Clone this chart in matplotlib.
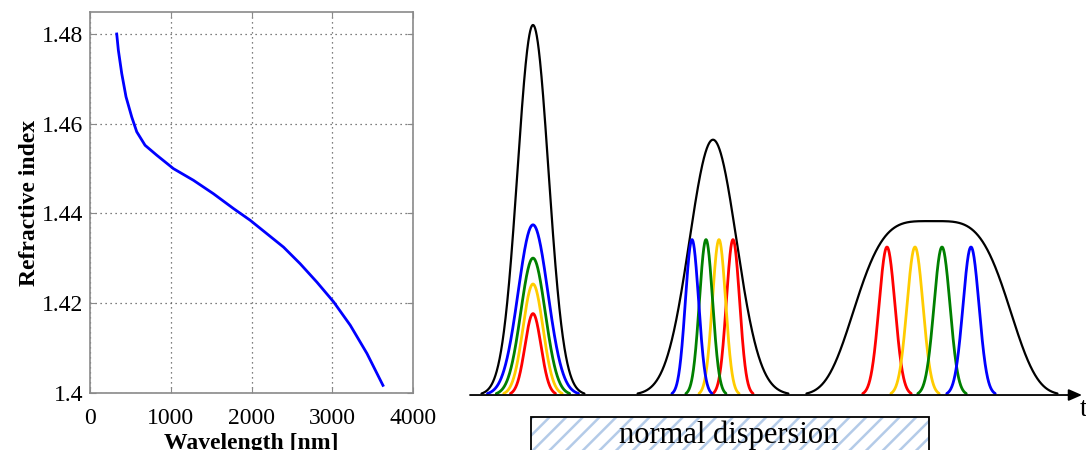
import numpy as np
import matplotlib
matplotlib.use("Agg")
import matplotlib.pyplot as plt
from matplotlib.patches import Rectangle

# ---------------- data: refractive index curve ----------------
wavelength_nm = [331, 351, 393, 446, 517, 579, 682, 826, 1033, 1281, 1529, 1777,
                 1983, 2190, 2397, 2603, 2810, 3017, 3223, 3430, 3628]
refr_index = [1.4800, 1.4764, 1.4712, 1.4660, 1.4615, 1.4582, 1.4552, 1.4530,
              1.4500, 1.4474, 1.4444, 1.4411, 1.4385, 1.4355, 1.4325, 1.4288,
              1.4247, 1.4203, 1.4151, 1.4088, 1.4017]
x_ticks = [0, 1000, 2000, 3000, 4000]
y_ticks = [1.40, 1.42, 1.44, 1.46, 1.48]
y_tick_labels = ["1.4", "1.42", "1.44", "1.46", "1.48"]

# ---------------- data: pulse schematic (time in arb. units) ----------------
colors = ["red", "#ffcc00", "green", "blue"]
# pulse 1: co-located components
p1_center = 6.3
p1_amps = [0.22, 0.30, 0.37, 0.46]
p1_sigmas = [0.80, 1.00, 1.22, 1.48]
p1_env_amp, p1_env_sigma = 1.0, 1.55
# pulse 2: components slightly separated
p2_centers = [26.3, 24.9, 23.6, 22.2]
p2_amps = [0.42, 0.42, 0.42, 0.42]
p2_sigma = 0.66
p2_env_center, p2_env_amp, p2_env_sigma = 24.3, 0.69, 2.35
# pulse 3: components fully separated
p3_centers = [41.7, 44.5, 47.2, 50.1]
p3_amps = [0.40, 0.40, 0.40, 0.40]
p3_sigma = 0.80
p3_env_center, p3_env_amp, p3_env_width = 46.2, 0.47, 8.5

plt.rcParams['font.family'] = ['Liberation Serif', 'DejaVu Serif']
plt.rcParams['hatch.linewidth'] = 1.8

fig = plt.figure(figsize=(10.86, 4.5), dpi=100)

# ---------------- left panel ----------------
ax = fig.add_axes([90/1086, 57/450, 323/1086, 381/450])
ax.plot(wavelength_nm, refr_index, color="#0000ff", lw=2.0)
ax.set_xlim(0, 4000)
ax.set_ylim(1.4, 1.4849)
ax.set_xticks(x_ticks)
ax.set_yticks(y_ticks)
ax.set_yticklabels(y_tick_labels)
ax.grid(True, linestyle=(0, (1, 3)), color="#555555", lw=0.9)
for s in ax.spines.values():
    s.set_color("#8a8a8a")
    s.set_linewidth(1.2)
ax.tick_params(direction="in", length=4, color="#8a8a8a", labelsize=17,
               top=True, right=True)
ax.tick_params(axis="x", pad=11)
ax.tick_params(axis="y", pad=5)
ax.set_xlabel("Wavelength [nm]", fontsize=17, fontweight="bold", labelpad=3)
ax.set_ylabel("Refractive index", fontsize=17, fontweight="bold", labelpad=1)

# ---------------- right panel ----------------
ax2 = fig.add_axes([470/1086, 0, 616/1086, 1])
ax2.set_xlim(0, 61.6)
ax2.set_ylim(-0.1486, 1.0676)
ax2.axis("off")

t = np.linspace(0, 61.6, 3000)

def gauss(a, c, s):
    return a * np.exp(-0.5 * ((t - c) / s) ** 2)

def draw(y, color, lw):
    y = np.where(y > 0.004, y, np.nan)
    ax2.plot(t, y, color=color, lw=lw, solid_capstyle="round")

# pulse 1
draw(gauss(p1_env_amp, p1_center, p1_env_sigma), "black", 1.6)
for a, s, c in zip(p1_amps, p1_sigmas, colors):
    draw(gauss(a, p1_center, s), c, 2.0)
# pulse 2
draw(gauss(p2_env_amp, p2_env_center, p2_env_sigma), "black", 1.6)
for cen, a, c in zip(p2_centers, p2_amps, colors):
    draw(gauss(a, cen, p2_sigma), c, 2.0)
# pulse 3
env3 = p3_env_amp * np.exp(-((t - p3_env_center) / p3_env_width) ** 4)
draw(env3, "black", 1.6)
for cen, a, c in zip(p3_centers, p3_amps, colors):
    draw(gauss(a, cen, p3_sigma), c, 2.0)

# time axis
ax2.annotate("", xy=(61.2, 0), xytext=(0, 0),
             arrowprops=dict(arrowstyle="-|>,head_length=0.8,head_width=0.35",
                             color="black", lw=1.3, shrinkA=0, shrinkB=0))
ax2.text(61.0, -0.04, "t", fontsize=20, ha="left", va="center")

# normal dispersion box
hatch_box = Rectangle((6.1, -0.3), 39.8, 0.3 - 0.0595, facecolor="white",
                      edgecolor="#b4cbe8", hatch="//", lw=0)
ax2.add_patch(hatch_box)
frame_box = Rectangle((6.1, -0.3), 39.8, 0.3 - 0.0595, facecolor="none",
                      edgecolor="black", lw=1.3)
ax2.add_patch(frame_box)
ax2.text(25.9, -0.108, "normal dispersion", fontsize=22, ha="center", va="center")

fig.savefig("out.png", dpi=100)
